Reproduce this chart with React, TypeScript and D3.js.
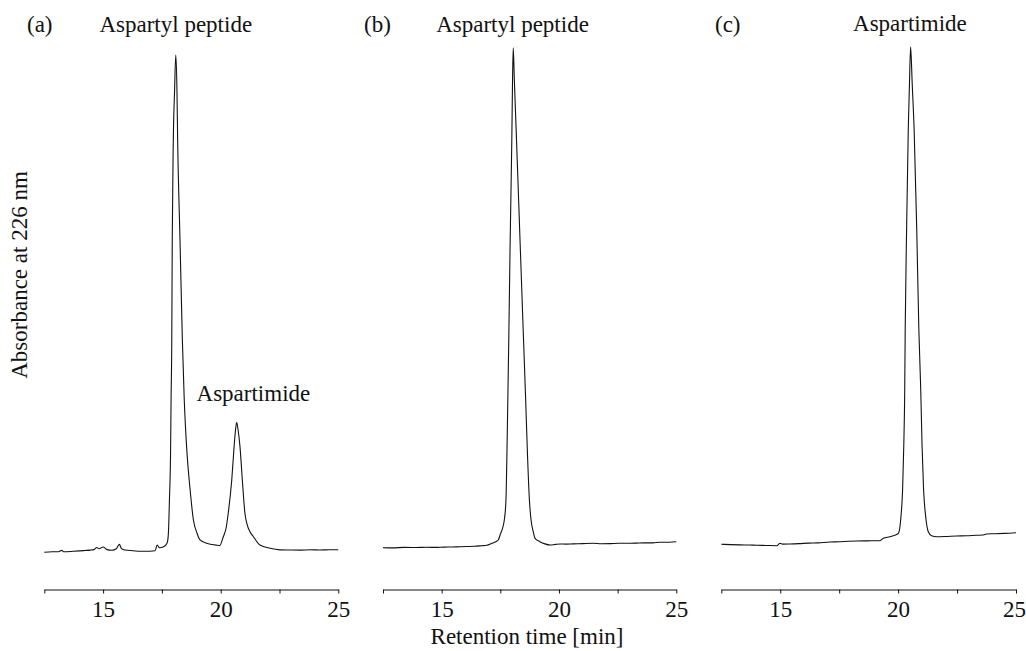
import React, { useEffect, useRef } from "react";
import * as d3 from "d3";

const FONT = '"Liberation Serif", "Times New Roman", Times, serif';
const INK = "#111";

// retention time [min], absorbance (arbitrary units, 0-100)
const traceA: [number, number][] = [
  [12.5, 1.48], [12.83, 1.58], [13.1, 1.6], [13.24, 1.85], [13.34, 1.58], [13.73, 1.67],
  [14.0, 1.75], [14.23, 1.83], [14.45, 1.9], [14.61, 2.0], [14.73, 2.4], [14.83, 2.15],
  [15.0, 2.5], [15.17, 2.0], [15.38, 1.87], [15.55, 2.1], [15.69, 3.0], [15.78, 2.2],
  [15.93, 1.92], [16.27, 1.79], [16.57, 1.67], [16.99, 1.69], [17.21, 1.79], [17.3, 2.88],
  [17.4, 2.35], [17.55, 2.5], [17.67, 2.9], [17.74, 3.6], [17.78, 5.5], [17.82, 11.5],
  [17.87, 21.2], [17.89, 30.8], [17.92, 42.3], [17.94, 61.5], [17.985, 80.8], [18.04, 90.4],
  [18.09, 97.1], [18.14, 90.4], [18.17, 80.8], [18.27, 61.5], [18.37, 42.3], [18.45, 30.8],
  [18.55, 21.8], [18.7, 13.5], [18.84, 7.7], [18.99, 5.2], [19.12, 3.85], [19.37, 3.27],
  [19.63, 2.98], [19.84, 2.85], [19.96, 2.79], [20.11, 4.48], [20.23, 6.15], [20.32, 8.98],
  [20.47, 15.4], [20.57, 21.8], [20.63, 25.0], [20.68, 26.5], [20.74, 25.0], [20.82, 21.8],
  [20.92, 15.4], [21.03, 8.98], [21.11, 7.06], [21.25, 5.38], [21.39, 4.48], [21.67, 2.88],
  [22.1, 2.25], [22.52, 1.95], [22.95, 1.92], [23.4, 1.9], [23.8, 1.96], [24.2, 1.93],
  [24.6, 1.97], [25.0, 1.98],
];

const traceB: [number, number][] = [
  [12.5, 2.37], [12.9, 2.33], [13.4, 2.42], [13.9, 2.4], [14.36, 2.44], [14.8, 2.42],
  [15.1, 2.48], [15.45, 2.5], [15.78, 2.56], [16.1, 2.6], [16.4, 2.65], [16.7, 2.75],
  [16.92, 2.83], [17.14, 3.2], [17.3, 3.5], [17.42, 3.9], [17.49, 4.8], [17.6, 6.2],
  [17.67, 7.69], [17.74, 11.5], [17.78, 20], [17.82, 30.8], [17.86, 42.3], [17.92, 61.5],
  [17.99, 80.8], [18.02, 92], [18.05, 98.5], [18.1, 92], [18.19, 80.8], [18.34, 61.5],
  [18.49, 42.3], [18.58, 30.8], [18.66, 20], [18.74, 11.5], [18.81, 7.69], [18.9, 5.5],
  [18.98, 4.17], [19.19, 3.52], [19.4, 3.1], [19.62, 2.88], [19.85, 3.0], [20.05, 3.08],
  [20.3, 3.05], [20.6, 3.1], [21.0, 3.15], [21.46, 3.21], [21.8, 3.12], [22.2, 3.15],
  [22.55, 3.22], [22.89, 3.21], [23.3, 3.25], [23.6, 3.3], [24.0, 3.3], [24.3, 3.4],
  [24.7, 3.42], [25.0, 3.52],
];

const traceC: [number, number][] = [
  [12.5, 3.02], [12.9, 2.95], [13.3, 2.9], [13.7, 2.88], [14.0, 2.83], [14.4, 2.8],
  [14.85, 2.75], [14.99, 3.21], [15.1, 3.05], [15.41, 3.08], [15.8, 3.15], [16.2, 3.25],
  [16.6, 3.3], [17.11, 3.46], [17.5, 3.5], [17.9, 3.6], [18.24, 3.65], [18.7, 3.68],
  [19.0, 3.7], [19.23, 3.71], [19.37, 4.17], [19.65, 4.48], [19.79, 4.67], [19.93, 4.9],
  [20.01, 5.13], [20.08, 6.5], [20.12, 8.33], [20.19, 13.5], [20.24, 22], [20.28, 32.7],
  [20.3, 44.2], [20.36, 63.5], [20.43, 82.7], [20.48, 91.3], [20.53, 98.7], [20.6, 91.3],
  [20.68, 82.7], [20.79, 63.5], [20.88, 44.2], [20.96, 32.7], [21.015, 22], [21.08, 13.5],
  [21.17, 8.33], [21.28, 5.44], [21.42, 4.67], [21.63, 4.48], [22.0, 4.52], [22.48, 4.62],
  [22.9, 4.65], [23.3, 4.75], [23.61, 4.81], [23.75, 5.0], [24.1, 5.05], [24.5, 5.12],
  [25.0, 5.25],
];

const tickValues = [12.5, 15, 17.5, 20, 22.5, 25];
const tickLabels = ["", "15", "", "20", "", "25"];

// peak annotations: text, retention time it is centred on, baseline
const labelsA: [string, number, number][] = [["Aspartyl peptide", 18.09, 32], ["Aspartimide", 21.39, 401]];
const labelsB: [string, number, number][] = [["Aspartyl peptide", 18.02, 32]];
const labelsC: [string, number, number][] = [["Aspartimide", 20.5, 31]];

const panels = [
  { tag: "(a)", tagX: 27, range: [44.3, 338.3], trace: traceA, labels: labelsA },
  { tag: "(b)", tagX: 364, range: [383, 676.3], trace: traceB, labels: labelsB },
  { tag: "(c)", tagX: 715, range: [721.3, 1016], trace: traceC, labels: labelsC },
];

const y = d3.scaleLinear().domain([0, 100]).range([560, 40]);
const AXIS_Y = 589.5;

const Panel = props => {
  const axisRef = useRef(null);
  const x = d3.scaleLinear().domain([12.5, 25]).range(props.range);
  const line = d3
    .line<[number, number]>()
    .x(d => x(d[0]))
    .y(d => y(d[1]))
    .curve(d3.curveMonotoneX);

  useEffect(() => {
    const g = d3.select(axisRef.current);
    g.call(
      d3
        .axisBottom(x)
        .tickValues(tickValues)
        .tickFormat((d, i) => tickLabels[i])
        .tickSize(4)
        .tickSizeOuter(0)
        .tickPadding(7)
    );
    g.attr("font-family", FONT).attr("font-size", 23);
    g.select(".domain").attr("stroke", INK);
    g.selectAll(".tick line").attr("stroke", INK);
    g.selectAll(".tick text").attr("fill", INK);
    // keep the last label of the right-hand panel inside the picture
    if (props.range[1] > 1000) {
      g.selectAll(".tick text").filter((d, i) => i === tickValues.length - 1).attr("dx", -2);
    }
  }, []);

  return (
    <g>
      <text x={props.tagX} y={32} fontFamily={FONT} fontSize={23} fill={INK}>
        {props.tag}
      </text>
      {props.labels.map(([txt, t, ty]) => (
        <text key={txt} x={x(t)} y={ty} textAnchor="middle" fontFamily={FONT} fontSize={23} fill={INK}>
          {txt}
        </text>
      ))}
      <path d={line(props.trace)} fill="none" stroke={INK} strokeWidth={1.1} strokeLinejoin="round" />
      <g ref={axisRef} transform={`translate(0,${AXIS_Y})`} />
    </g>
  );
};

export default function App() {
  return (
    <svg
      width={1026}
      height={651}
      style={{ position: "absolute", left: 0, top: 0, background: "#fff" }}
    >
      <rect width={1026} height={651} fill="#fff" />
      {panels.map(p => (
        <Panel key={p.tag} {...p} />
      ))}
      <text
        transform="translate(27,275) rotate(-90)"
        textAnchor="middle"
        fontFamily={FONT}
        fontSize={23}
        fill={INK}
      >
        Absorbance at 226 nm
      </text>
      <text x={527} y={644} textAnchor="middle" fontFamily={FONT} fontSize={23} fill={INK}>
        Retention time [min]
      </text>
    </svg>
  );
}
